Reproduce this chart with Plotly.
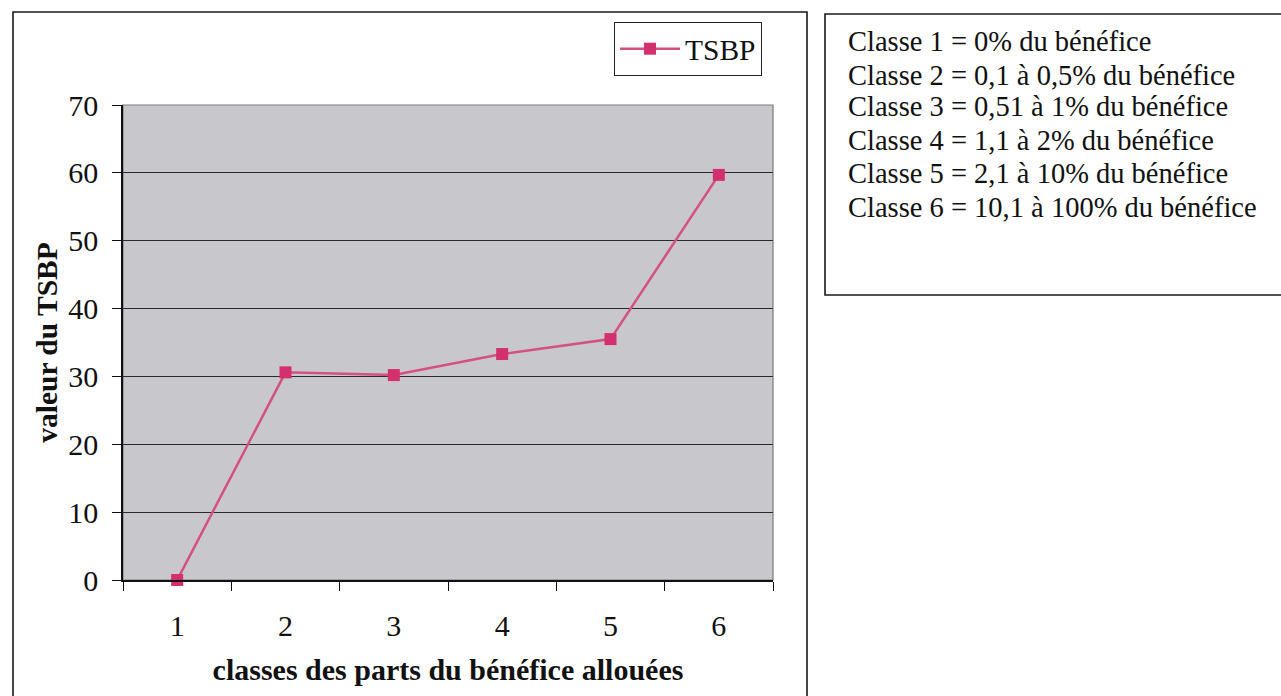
import plotly.graph_objects as go

# ---- data ----
categories = ["1", "2", "3", "4", "5", "6"]
tsbp_values = [0.0, 30.6, 30.2, 33.3, 35.5, 59.7]
series_name = "TSBP"
y_ticks = [0, 10, 20, 30, 40, 50, 60, 70]
x_title = "classes des parts du bénéfice allouées"
y_title = "valeur du TSBP"
class_notes = [
    "Classe 1 = 0% du bénéfice",
    "Classe 2 = 0,1 à 0,5% du bénéfice",
    "Classe 3 = 0,51 à 1% du bénéfice",
    "Classe 4 = 1,1 à 2% du bénéfice",
    "Classe 5 = 2,1 à 10% du bénéfice",
    "Classe 6 = 10,1 à 100% du bénéfice",
]

W, H = 1281, 696
L, R, T, B = 123, 773, 105, 580  # plot area in pixels
PW, PH = R - L, B - T
FONT = "Liberation Serif, Times New Roman, serif"


def px_x(x):
    return (x - L) / PW


def px_y(y):
    return (B - y) / PH


fig = go.Figure()
fig.add_trace(go.Scatter(
    x=categories, y=tsbp_values, name=series_name, mode="lines+markers",
    line=dict(color="#d4507f", width=2.5),
    marker=dict(symbol="square", size=12, color="#d42f6e"),
    cliponaxis=False,
))

shapes = [
    # plot area frame (grey)
    dict(type="rect", xref="paper", yref="paper", x0=0, x1=1, y0=0, y1=1,
         line=dict(color="#7a7a7a", width=1.2), layer="below"),
    # outer chart border
    dict(type="rect", xref="paper", yref="paper",
         x0=px_x(13), x1=px_x(807), y0=px_y(705), y1=px_y(12),
         line=dict(color="#1a1a1a", width=1.6)),
    # notes box
    dict(type="rect", xref="paper", yref="paper",
         x0=px_x(825), x1=px_x(1295), y0=px_y(295), y1=px_y(14),
         line=dict(color="#1a1a1a", width=1.6)),
]

line_centers = [42, 75, 107, 140, 173, 207]
annotations = []
for txt, yc in zip(class_notes, line_centers):
    annotations.append(dict(
        text=txt, xref="paper", yref="paper", x=px_x(846), y=px_y(yc),
        xanchor="left", yanchor="middle", showarrow=False,
        font=dict(family=FONT, size=28.5, color="#111"),
    ))

fig.update_layout(
    width=W, height=H,
    margin=dict(l=L, r=W - R, t=T, b=H - B),
    paper_bgcolor="white",
    plot_bgcolor="#c8c8cc",
    font=dict(family=FONT, size=30, color="#111"),
    showlegend=True,
    legend=dict(
        x=px_x(614), y=px_y(22), xanchor="left", yanchor="top",
        bgcolor="white", bordercolor="#222", borderwidth=1,
        font=dict(family=FONT, size=29.5, color="#111"),
        itemwidth=60,
    ),
    shapes=shapes,
    annotations=annotations,
)

fig.update_xaxes(
    type="category", range=[-0.5, 5.5], tickson="boundaries",
    ticks="outside", ticklen=9,
    tickcolor="#111", tickwidth=1.2,
    showline=True, linecolor="#111", linewidth=1.5,
    showgrid=False, zeroline=False,
    tickfont=dict(family=FONT, size=30, color="#111"),
    ticklabelstandoff=18,
    title=dict(text="<b>" + x_title + "</b>", font=dict(family=FONT, size=30, color="#111"),
               standoff=18),
)
fig.update_yaxes(
    range=[0, 70], tickvals=y_ticks, ticks="outside", ticklen=9,
    tickcolor="#111", tickwidth=1.2,
    showline=True, linecolor="#111", linewidth=1.5,
    showgrid=True, gridcolor="#2a2a2a", gridwidth=1,
    zeroline=False,
    tickfont=dict(family=FONT, size=30, color="#111"),
    ticklabelstandoff=8,
    title=dict(text="<b>" + y_title + "</b>", font=dict(family=FONT, size=29.5, color="#111"),
               standoff=2),
)

fig.write_html("out.html")
